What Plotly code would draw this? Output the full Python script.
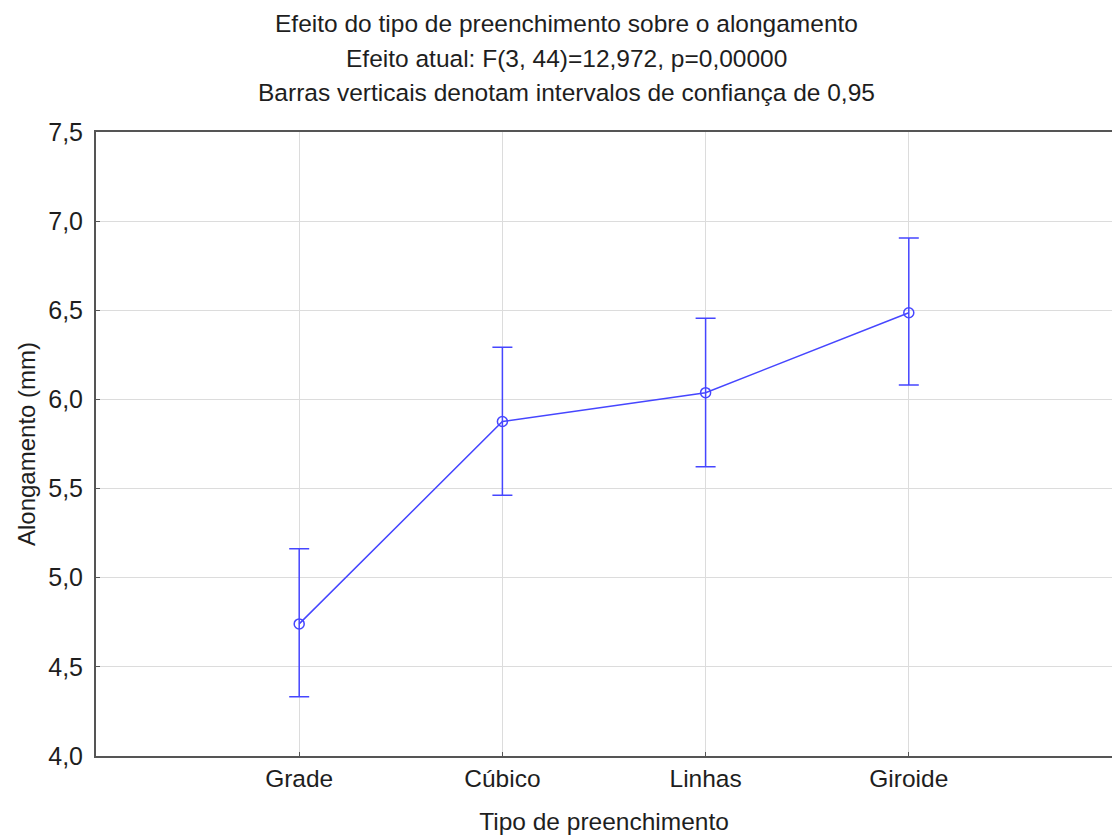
import plotly.graph_objects as go

# Infill pattern categories and elongation statistics (mm)
categories = ["Grade", "Cúbico", "Linhas", "Giroide"]
means = [4.741, 5.876, 6.038, 6.486]
ci_upper = [5.163, 6.293, 6.455, 6.906]
ci_lower = [4.332, 5.462, 5.622, 6.081]
y_ticks = [4.0, 4.5, 5.0, 5.5, 6.0, 6.5, 7.0, 7.5]
title_lines = [
    "Efeito do tipo de preenchimento sobre o alongamento",
    "Efeito atual: F(3, 44)=12,972, p=0,00000",
    "Barras verticais denotam intervalos de confiança de 0,95",
]

err_plus = [u - m for u, m in zip(ci_upper, means)]
err_minus = [m - l for m, l in zip(means, ci_lower)]

blue = "rgb(70,70,255)"
text_color = "#1e1e1e"
font_family = "Liberation Sans, Arial, sans-serif"

fig = go.Figure()
fig.add_trace(go.Scatter(
    x=list(range(len(categories))),
    y=means,
    mode="lines+markers",
    line=dict(color=blue, width=1.5),
    marker=dict(symbol="circle-open", size=10, color=blue, line=dict(width=1.5, color=blue)),
    error_y=dict(type="data", symmetric=False, array=err_plus, arrayminus=err_minus,
                 color=blue, thickness=1.5, width=10),
    showlegend=False,
))

# Three-line heading, centred on the page
for i, line in enumerate(title_lines):
    fig.add_annotation(
        text=line, xref="paper", yref="paper",
        x=0.4626, y=1.174 - i * 0.0555,
        xanchor="center", yanchor="middle", showarrow=False,
        font=dict(size=24.5, family=font_family, color=text_color),
    )

fig.update_layout(
    width=1112, height=837,
    margin=dict(l=96, r=0, t=132, b=81),
    paper_bgcolor="white", plot_bgcolor="white",
    separators=", ",
    font=dict(family=font_family, color=text_color, size=22),
    xaxis=dict(
        range=[-1, 4],
        tickmode="array",
        tickvals=list(range(len(categories))),
        ticktext=categories,
        showgrid=True, gridcolor="#dcdcdc", gridwidth=1,
        showline=True, linecolor="#555555", linewidth=2, mirror=True,
        ticks="inside", ticklen=4, tickcolor="#555555",
        zeroline=False,
        tickfont=dict(size=24.5),
        title=dict(text="Tipo de preenchimento", font=dict(size=24.5), standoff=21),
    ),
    yaxis=dict(
        range=[4.0, 7.5],
        tickmode="array",
        tickvals=y_ticks,
        tickformat=".1f",
        showgrid=True, gridcolor="#dcdcdc", gridwidth=1,
        showline=True, linecolor="#555555", linewidth=2,
        ticks="inside", ticklen=4, tickcolor="#555555",
        ticklabelstandoff=6,
        zeroline=False,
        tickfont=dict(size=25),
        title=dict(text="Alongamento (mm)", font=dict(size=24), standoff=6),
    ),
)

fig.write_html("out.html")
